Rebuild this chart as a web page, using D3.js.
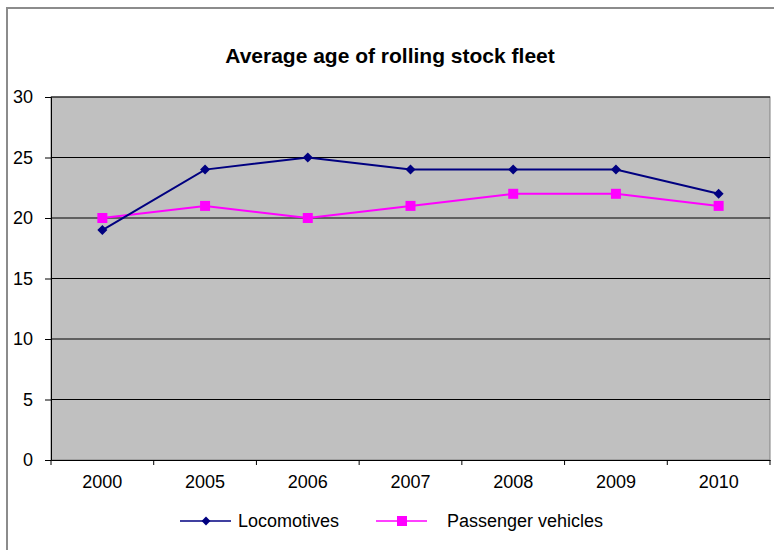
<!DOCTYPE html>
<html>
<head>
<meta charset="utf-8">
<script src="https://cdn.jsdelivr.net/npm/d3@7"></script>
<style>
  body { margin: 0; background: #fff; }
  svg { font-family: Arial, "Liberation Sans", sans-serif; }
</style>
</head>
<body>
<div id="chart"></div>
<script>
// data
const years = ["2000", "2005", "2006", "2007", "2008", "2009", "2010"];
const locomotives = [19, 24, 25, 24, 24, 24, 22];
const passengerVehicles = [20, 21, 20, 21, 22, 22, 21];
const yTicks = [0, 5, 10, 15, 20, 25, 30];

const width = 774, height = 550;
const margin = { top: 97, right: 4, bottom: 90, left: 51 };

const svg = d3.select("#chart")
    .append("svg")
    .attr("width", width)
    .attr("height", height);

// outer chart border
svg.append("rect")
    .attr("x", 7)
    .attr("y", 8)
    .attr("width", width + 10)
    .attr("height", height + 10)
    .attr("fill", "white")
    .attr("stroke", "#8c8c8c")
    .attr("stroke-width", 2);

const x = d3.scaleBand()
    .domain(years)
    .range([margin.left, width - margin.right]);

const y = d3.scaleLinear()
    .domain([0, 30])
    .range([height - margin.bottom, margin.top]);

// plot area
svg.append("rect")
    .attr("x", margin.left)
    .attr("y", margin.top)
    .attr("width", width - margin.right - margin.left)
    .attr("height", height - margin.bottom - margin.top)
    .attr("fill", "#c0c0c0")
    .attr("stroke", "#808080")
    .attr("stroke-width", 1);

// gridlines
svg.selectAll(".grid")
    .data(yTicks.filter(d => d > 0))
    .enter()
    .append("line")
    .attr("class", "grid")
    .attr("x1", margin.left)
    .attr("x2", width - margin.right)
    .attr("y1", d => y(d))
    .attr("y2", d => y(d))
    .attr("stroke", "#000")
    .attr("stroke-width", 1);

// y axis
const yAxis = svg.append("g")
    .attr("transform", "translate(" + margin.left + ",0)")
    .call(d3.axisLeft(y).tickValues(yTicks).tickSize(6).tickPadding(12));
yAxis.selectAll("text").attr("font-size", "18px").attr("fill", "#000");
yAxis.select(".domain").attr("stroke", "#000");

// x axis with ticks at band boundaries
const xAxis = svg.append("g")
    .attr("transform", "translate(0," + y(0) + ")")
    .call(d3.axisBottom(x).tickSize(0).tickPadding(15));
xAxis.selectAll("text").attr("font-size", "18px").attr("fill", "#000");
xAxis.select(".domain").attr("stroke", "#000");

svg.selectAll(".xTick")
    .data(years.concat([null]))
    .enter()
    .append("line")
    .attr("class", "xTick")
    .attr("x1", (d, i) => x.range()[0] + i * x.step())
    .attr("x2", (d, i) => x.range()[0] + i * x.step())
    .attr("y1", y(0))
    .attr("y2", y(0) + 5)
    .attr("stroke", "#000");

const cx = d => x(d) + x.bandwidth() / 2;

const line = d3.line()
    .x((d, i) => cx(years[i]))
    .y(d => y(d));

// passenger vehicles series
svg.append("path")
    .datum(passengerVehicles)
    .attr("d", line)
    .attr("fill", "none")
    .attr("stroke", "#ff00ff")
    .attr("stroke-width", 2);

svg.selectAll(".pv")
    .data(passengerVehicles)
    .enter()
    .append("rect")
    .attr("class", "pv")
    .attr("x", (d, i) => cx(years[i]) - 5)
    .attr("y", d => y(d) - 5)
    .attr("width", 10)
    .attr("height", 10)
    .attr("fill", "#ff00ff");

// locomotives series
svg.append("path")
    .datum(locomotives)
    .attr("d", line)
    .attr("fill", "none")
    .attr("stroke", "#000080")
    .attr("stroke-width", 2);

const diamond = d3.symbol().type(d3.symbolDiamond2).size(64);
svg.selectAll(".loco")
    .data(locomotives)
    .enter()
    .append("path")
    .attr("class", "loco")
    .attr("d", diamond)
    .attr("transform", (d, i) => "translate(" + cx(years[i]) + "," + y(d) + ")")
    .attr("fill", "#000080");

// title
svg.append("text")
    .attr("x", 390)
    .attr("y", 63)
    .attr("text-anchor", "middle")
    .attr("font-size", "21px")
    .attr("font-weight", "bold")
    .text("Average age of rolling stock fleet");

// legend
const legend = [
    { name: "Locomotives", color: "#000080", x0: 180, tx: 238, shape: "diamond" },
    { name: "Passenger vehicles", color: "#ff00ff", x0: 376, tx: 447, shape: "square" }
];
const ly = 521;
legend.forEach(item => {
    svg.append("line")
        .attr("x1", item.x0)
        .attr("x2", item.x0 + 51)
        .attr("y1", ly)
        .attr("y2", ly)
        .attr("stroke", item.color)
        .attr("stroke-width", 1.5);
    if (item.shape === "diamond") {
        svg.append("path")
            .attr("d", d3.symbol().type(d3.symbolDiamond2).size(50))
            .attr("transform", "translate(" + (item.x0 + 26) + "," + ly + ")")
            .attr("fill", item.color);
    } else {
        svg.append("rect")
            .attr("x", item.x0 + 21)
            .attr("y", ly - 5)
            .attr("width", 10)
            .attr("height", 10)
            .attr("fill", item.color);
    }
    svg.append("text")
        .attr("x", item.tx)
        .attr("y", ly + 6)
        .attr("font-size", "18px")
        .text(item.name);
});
</script>
</body>
</html>
